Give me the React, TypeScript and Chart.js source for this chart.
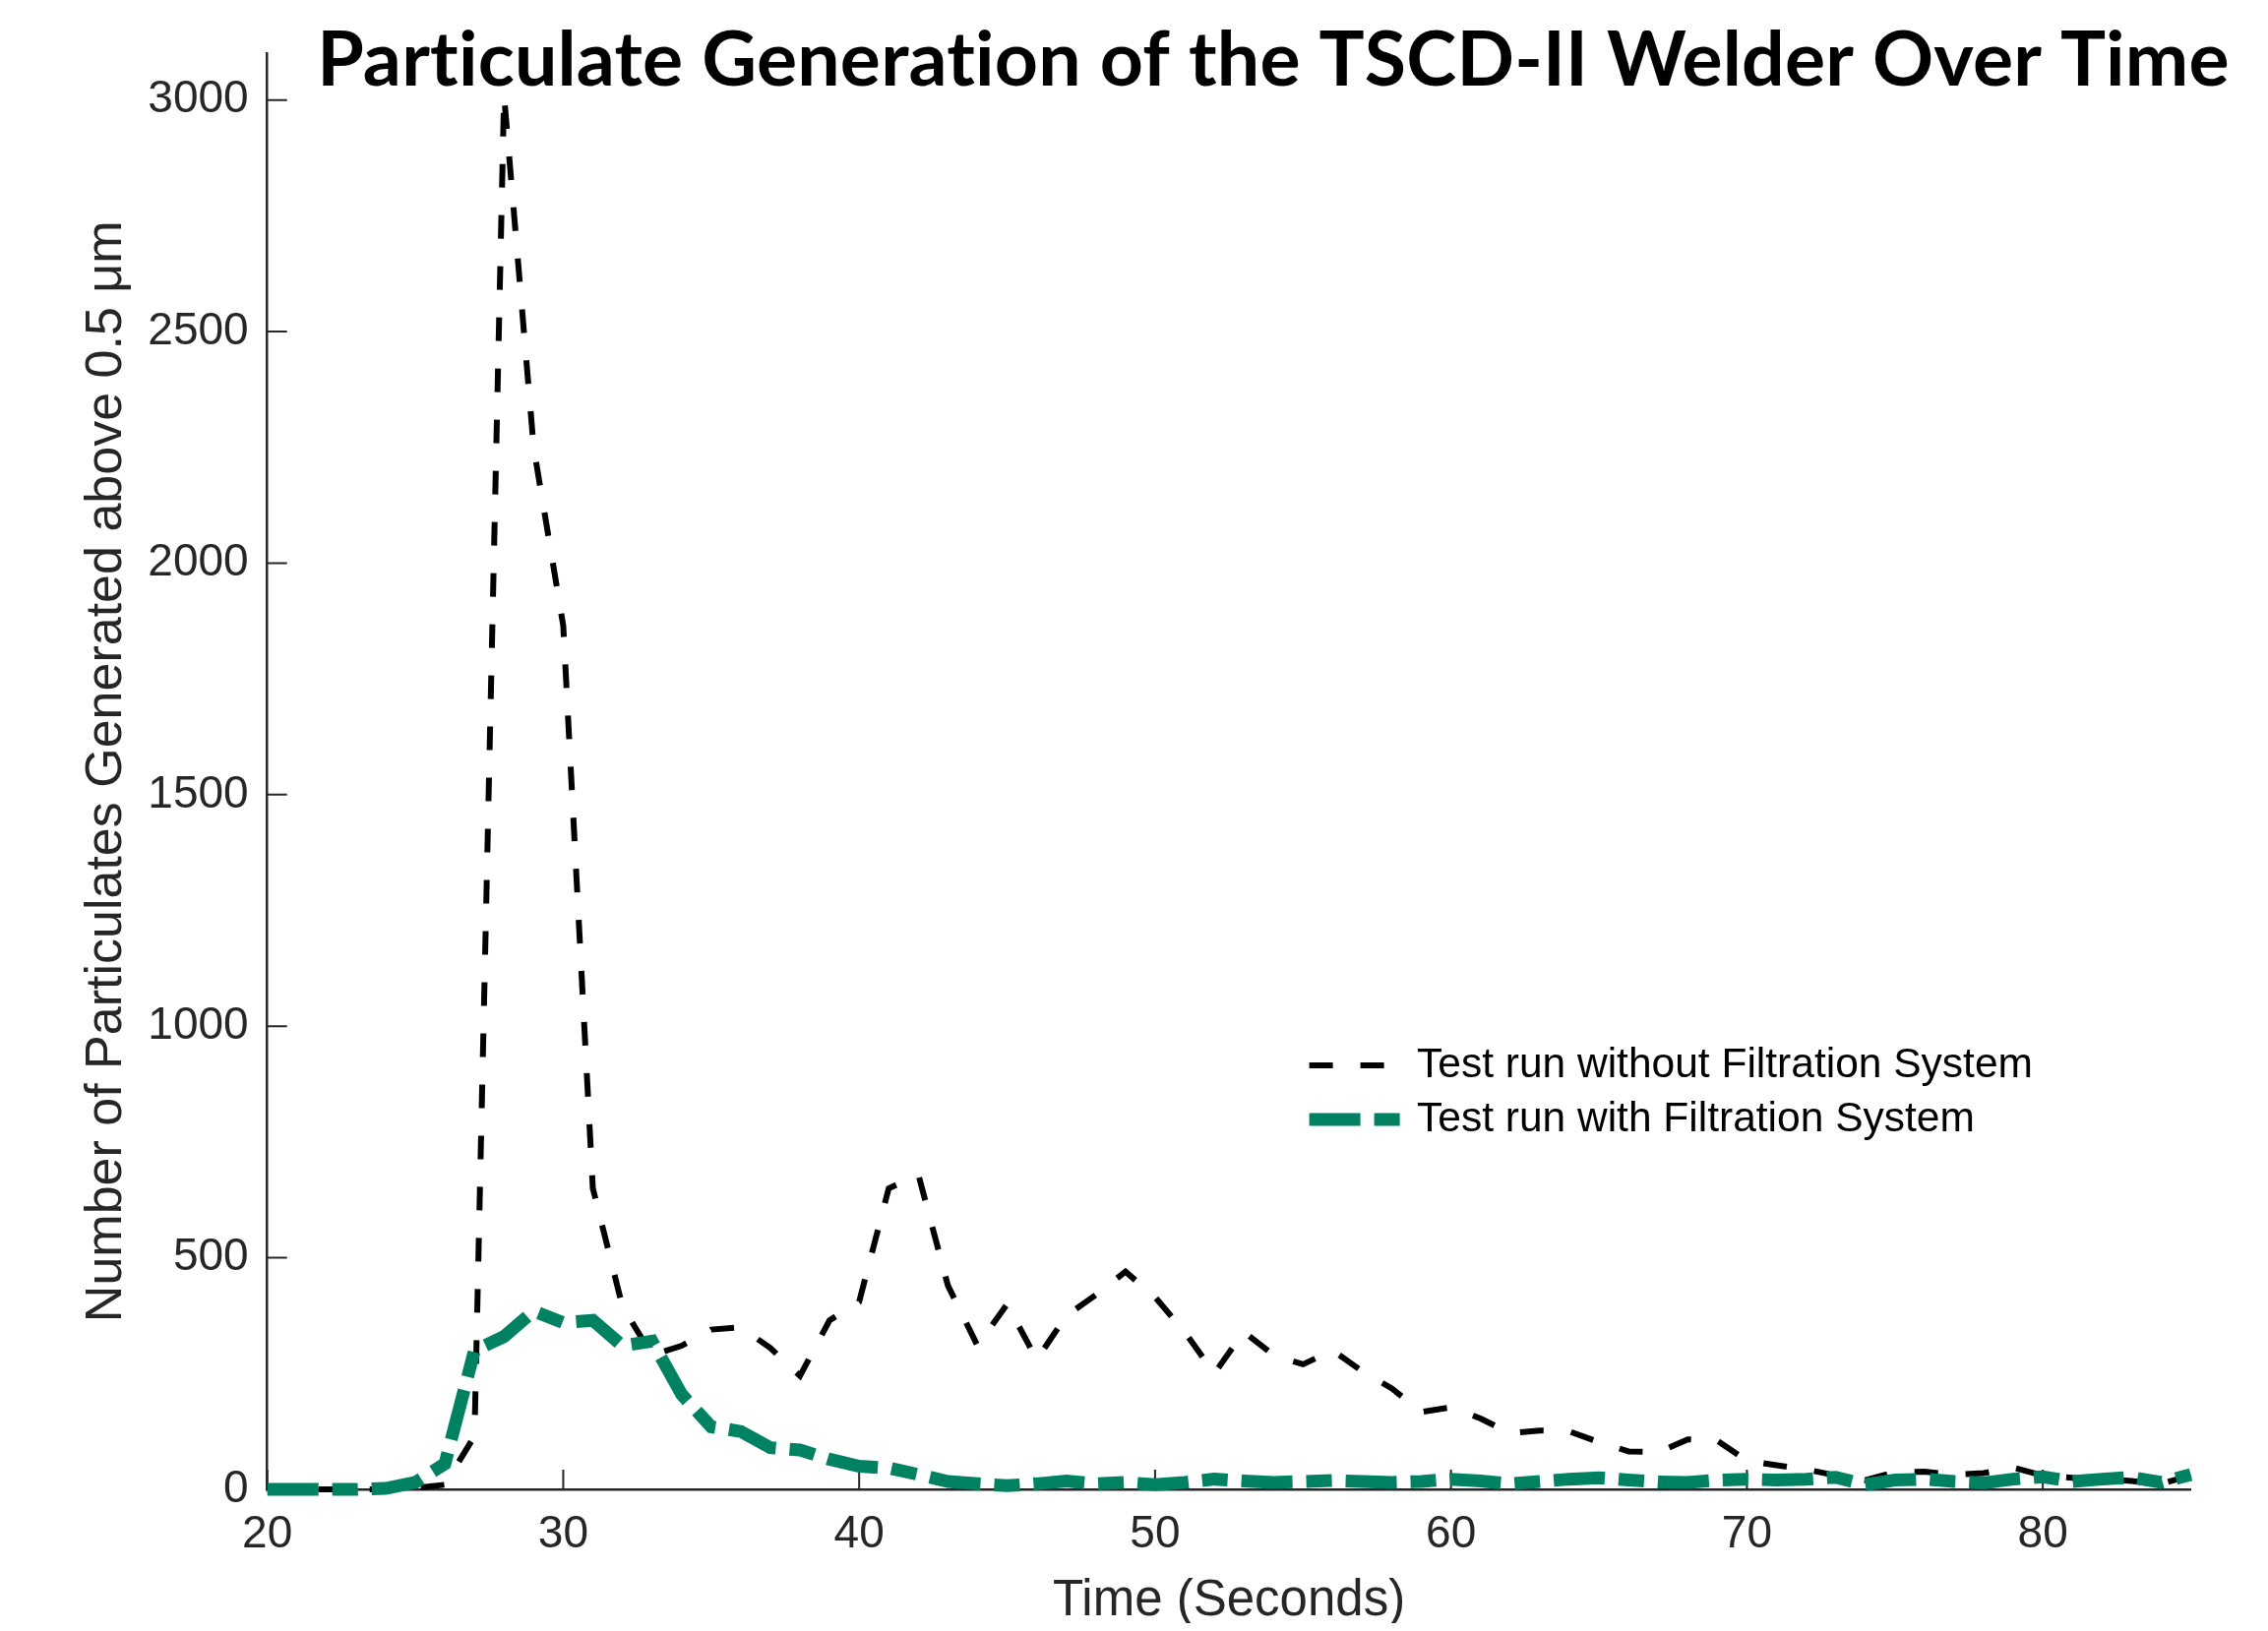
import React, { useEffect, useRef } from "react";
import { Chart, registerables } from "chart.js";

Chart.register(...registerables);

// ---------------- data ----------------
const timeSeconds = [
  20, 21, 22, 23, 24, 25, 26, 27, 28, 29, 30, 31, 32, 33, 34, 35, 36, 37, 38, 39,
  40, 41, 42, 43, 44, 45, 46, 47, 48, 49, 50, 51, 52, 53, 54, 55, 56, 57, 58, 59,
  60, 61, 62, 63, 64, 65, 66, 67, 68, 69, 70, 71, 72, 73, 74, 75, 76, 77, 78, 79,
  80, 81, 82, 83, 84, 85,
];

const withoutFiltration = [
  0, 0, 0, 0, 0, 3, 10, 115, 3010, 2250, 1865, 650, 395, 290, 310, 345, 350, 305, 245, 365,
  405, 650, 680, 440, 310, 400, 280, 375, 420, 470, 415, 340, 250, 340, 290, 270, 300, 255, 218, 167,
  177, 153, 121, 127, 125, 102, 82, 80, 108, 105, 62, 52, 43, 30, 20, 37, 38, 32, 35, 47,
  30, 25, 22, 18, 12, 30,
];

const withFiltration = [
  0, 0, 0, 0, 2, 15, 55, 300, 330, 385, 360, 365, 310, 320, 205, 135, 125, 90, 85, 65,
  50, 46, 32, 17, 12, 8, 12, 18, 12, 15, 10, 15, 22, 18, 15, 17, 19, 17, 15, 17,
  22, 18, 12, 17, 22, 25, 20, 16, 15, 20, 22, 20, 22, 26, 10, 20, 22, 17, 14, 22,
  27, 17, 22, 26, 15, 32,
];

const xTickValues = [20, 30, 40, 50, 60, 70, 80];
const yTickValues = [0, 500, 1000, 1500, 2000, 2500, 3000];

const titleText = "Particulate Generation of the TSCD-II Welder Over Time";
const xTitleText = "Time (Seconds)";
const yTitleText = "Number of Particulates Generated above 0.5 \u03bcm";
const seriesLabels = [
  "Test run without Filtration System",
  "Test run with Filtration System",
];

// ---------------- styles / layout ----------------
const CANVAS_W = 2289;
const CANVAS_H = 1642;
const AREA_LEFT = 263.7;
const AREA_TOP = 39.6;
const AREA_RIGHT = 2218.5;
const AREA_BOTTOM = 1506;
const AXIS_COLOR = "#262626";
const GREEN = "#008262";
const TICK_FONT = "'Liberation Sans', Arial, Helvetica, sans-serif";

const decorPlugin = {
  id: "decor",
  beforeDatasetsDraw(chart: any) {
    const { ctx, chartArea, scales } = chart;
    ctx.save();
    ctx.strokeStyle = AXIS_COLOR;
    ctx.lineWidth = 2;
    ctx.beginPath();
    for (const v of xTickValues) {
      const px = scales.x.getPixelForValue(v);
      ctx.moveTo(px, chartArea.bottom);
      ctx.lineTo(px, chartArea.bottom - 20);
    }
    for (const v of yTickValues) {
      const py = scales.y.getPixelForValue(v);
      ctx.moveTo(chartArea.left, py);
      ctx.lineTo(chartArea.left + 20, py);
    }
    ctx.stroke();
    ctx.restore();
  },
  afterDraw(chart: any) {
    const { ctx } = chart;
    // title
    ctx.save();
    ctx.font = "bold 76px Lato, 'Noto Sans', sans-serif";
    try {
      (ctx as any).letterSpacing = "0.2px";
    } catch (e) {}
    ctx.fillStyle = "#000";
    ctx.textBaseline = "alphabetic";
    ctx.textAlign = "left";
    const m = ctx.measureText(titleText);
    const inkW = m.actualBoundingBoxLeft + m.actualBoundingBoxRight;
    const left = 320.3;
    const right = 2256;
    const sx = (right - left) / inkW;
    ctx.translate(left, 79.3);
    ctx.scale(sx, 1);
    ctx.fillText(titleText, m.actualBoundingBoxLeft, 0);
    ctx.restore();

    // legend
    const rows = [1075, 1130];
    const lineX0 = 1322.6;
    const lineX1 = 1418;
    const textX = 1432;
    ctx.save();
    chart.data.datasets.forEach((ds: any, i: number) => {
      const y = rows[i];
      ctx.save();
      ctx.strokeStyle = ds.borderColor;
      ctx.lineWidth = ds.borderWidth;
      ctx.setLineDash(ds.borderDash || []);
      ctx.lineCap = "butt";
      ctx.beginPath();
      ctx.moveTo(lineX0, y);
      ctx.lineTo(lineX1, y);
      ctx.stroke();
      ctx.restore();
      ctx.font = `42.5px ${TICK_FONT}`;
      ctx.fillStyle = "#000";
      ctx.textBaseline = "middle";
      ctx.textAlign = "left";
      ctx.fillText(ds.label, textX, y);
    });
    ctx.restore();
  },
};

export default function App() {
  const canvasRef = useRef<HTMLCanvasElement | null>(null);

  useEffect(() => {
    if (!canvasRef.current) return;
    const chart = new Chart(canvasRef.current, {
      type: "line",
      data: {
        datasets: [
          {
            label: seriesLabels[0],
            data: timeSeconds.map((t, i) => ({ x: t, y: withoutFiltration[i] })),
            borderColor: "#000000",
            backgroundColor: "#000000",
            borderWidth: 6,
            borderDash: [24, 28],
            pointRadius: 0,
            tension: 0,
            borderJoinStyle: "miter",
            borderCapStyle: "butt",
            clip: false,
            order: 1,
          },
          {
            label: seriesLabels[1],
            data: timeSeconds.map((t, i) => ({ x: t, y: withFiltration[i] })),
            borderColor: GREEN,
            backgroundColor: GREEN,
            borderWidth: 13,
            borderDash: [52, 14, 26, 14],
            pointRadius: 0,
            tension: 0,
            borderJoinStyle: "miter",
            borderCapStyle: "butt",
            clip: false,
            order: 0,
          },
        ],
      },
      options: {
        animation: false,
        responsive: true,
        maintainAspectRatio: false,
        devicePixelRatio: 1,
        layout: {
          padding: { top: AREA_TOP, right: CANVAS_W - AREA_RIGHT, left: 0, bottom: 0 },
        },
        plugins: {
          legend: { display: false },
          title: { display: false },
          tooltip: { enabled: false },
        },
        scales: {
          x: {
            type: "linear",
            min: 20,
            max: 85,
            afterBuildTicks: (scale: any) => {
              scale.ticks = xTickValues.map((v) => ({ value: v }));
            },
            afterFit: (scale: any) => {
              scale.height = CANVAS_H - AREA_BOTTOM;
            },
            grid: { display: false, drawTicks: false },
            border: { display: true, color: AXIS_COLOR, width: 2.5 },
            ticks: {
              color: AXIS_COLOR,
              font: { family: TICK_FONT, size: 46 },
              padding: 19,
              maxRotation: 0,
              minRotation: 0,
              autoSkip: false,
              callback: (v: any) => String(v),
            },
            title: {
              display: true,
              text: xTitleText,
              color: AXIS_COLOR,
              font: { family: TICK_FONT, size: 51, lineHeight: 0.85 },
              padding: { top: 0, bottom: 0 },
            },
          },
          y: {
            type: "linear",
            min: 0,
            max: 3100,
            afterBuildTicks: (scale: any) => {
              scale.ticks = yTickValues.map((v) => ({ value: v }));
            },
            afterFit: (scale: any) => {
              scale.width = AREA_LEFT;
            },
            grid: { display: false, drawTicks: false },
            border: { display: true, color: AXIS_COLOR, width: 2.5 },
            ticks: {
              color: AXIS_COLOR,
              font: { family: TICK_FONT, size: 46 },
              padding: 19,
              autoSkip: false,
              callback: (v: any) => String(v),
            },
            title: {
              display: true,
              text: yTitleText,
              color: AXIS_COLOR,
              font: { family: TICK_FONT, size: 52, lineHeight: 1.2 },
              padding: { top: 69.8, bottom: 0 },
            },
          },
        },
      },
      plugins: [decorPlugin],
    } as any);
    return () => chart.destroy();
  }, []);

  return (
    <div style={{ width: CANVAS_W, height: CANVAS_H, position: "relative" }}>
      <canvas ref={canvasRef} style={{ display: "block" }} />
    </div>
  );
}
